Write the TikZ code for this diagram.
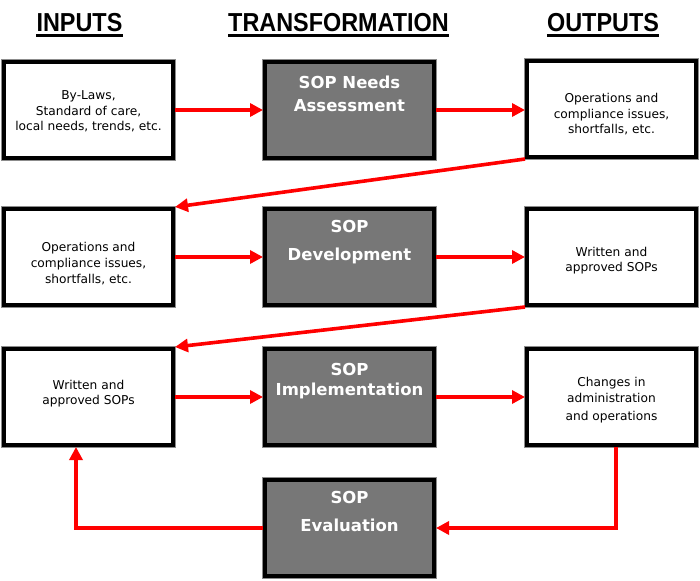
\documentclass[tikz,border=0pt]{standalone}
\usepackage{fontspec}
\setmainfont{DejaVu Sans}
\newfontfamily\hdfont[FakeStretch=0.9]{Liberation Sans}
\usetikzlibrary{arrows.meta}
\definecolor{boxgray}{RGB}{119,119,119}
\definecolor{arrred}{RGB}{255,0,0}
\tikzset{
  whitebox/.style={rectangle, draw=black, fill=white, line width=4pt, minimum width=169pt, minimum height=96pt, inner sep=0pt, outer sep=2pt,
    preaction={draw=black!45, line width=6pt}},
  graybox/.style={whitebox, fill=boxgray},
  smalltxt/.style={font=\fontsize{12.2}{15}\selectfont, anchor=base, inner sep=0pt},
  bigtxt/.style={font=\fontsize{16.5}{20}\selectfont\bfseries, text=white, anchor=base, inner sep=0pt},
  headtxt/.style={font=\hdfont\bfseries\fontsize{26}{30}\selectfont, anchor=base, inner sep=0pt},
  uline/.style={line width=2.4pt},
  flow/.style={draw=arrred, line width=3.6pt, -{Triangle[length=13pt,width=13pt]}}
}
\begin{document}
\begin{tikzpicture}[x=1pt, y=-1pt]
\useasboundingbox (0,0) rectangle (700,580);
\fill[white] (0,0) rectangle (700,580);

% headers
\node[headtxt] (h1) at (79.5,32) {INPUTS};
\node[headtxt] (h2) at (338.5,32) {TRANSFORMATION};
\node[headtxt] (h3) at (603,32) {OUTPUTS};
\draw[uline] ([yshift=-3.5pt]h1.base west) -- ([yshift=-3.5pt]h1.base east);
\draw[uline] ([yshift=-3.5pt]h2.base west) -- ([yshift=-3.5pt]h2.base east);
\draw[uline] ([yshift=-3.5pt]h3.base west) -- ([yshift=-3.5pt]h3.base east);

% boxes
\node[whitebox] (l1) at (88.5,110) {};
\node[graybox]  (m1) at (349.5,110) {};
\node[whitebox] (r1) at (611.5,109) {};
\node[whitebox] (l2) at (88.5,257) {};
\node[graybox]  (m2) at (349.5,257) {};
\node[whitebox] (r2) at (611.5,257) {};
\node[whitebox] (l3) at (88.5,397) {};
\node[graybox]  (m3) at (349.5,397) {};
\node[whitebox] (r3) at (611.5,397) {};
\node[graybox]  (m4) at (349.5,528) {};

% texts row 1
\node[smalltxt] (l1a) at (88.5,100) {By-Laws,};
\node[smalltxt] (l1b) at (88.5,115.5) {Standard of care,};
\node[smalltxt] (l1c) at (88.5,131) {local needs, trends, etc.};
\node[bigtxt] (m1a) at (349.5,88.3) {SOP Needs};
\node[bigtxt] (m1b) at (349.5,111.7) {Assessment};
\node[smalltxt] (r1a) at (611.5,102.5) {Operations and};
\node[smalltxt] (r1b) at (611.5,118.5) {compliance issues,};
\node[smalltxt] (r1c) at (611.5,133.5) {shortfalls, etc.};

% texts row 2
\node[smalltxt] (l2a) at (88.5,251) {Operations and};
\node[smalltxt] (l2b) at (88.5,267.5) {compliance issues,};
\node[smalltxt] (l2c) at (88.5,283.5) {shortfalls, etc.};
\node[bigtxt] (m2a) at (349.5,232.3) {SOP};
\node[bigtxt] (m2b) at (349.5,260) {Development};
\node[smalltxt] (r2a) at (611.5,256) {Written and};
\node[smalltxt] (r2b) at (611.5,271) {approved SOPs};

% texts row 3
\node[smalltxt] (l3a) at (88.5,389.5) {Written and};
\node[smalltxt] (l3b) at (88.5,404.5) {approved SOPs};
\node[bigtxt] (m3a) at (349.5,375) {SOP};
\node[bigtxt] (m3b) at (349.5,395.5) {Implementation};
\node[smalltxt] (r3a) at (611.5,386) {Changes in};
\node[smalltxt] (r3b) at (611.5,402) {administration};
\node[smalltxt] (r3c) at (611.5,420) {and operations};

% row 4
\node[bigtxt] (m4a) at (349.5,503.3) {SOP};
\node[bigtxt] (m4b) at (349.5,531.7) {Evaluation};

% connectors
\draw[flow] (l1.east) -- (m1.west);
\draw[flow] (m1.east) -- (m1.east -| r1.west);
\draw[flow] (r1.south west) -- (l2.north east);
\draw[flow] (l2.east) -- (m2.west);
\draw[flow] (m2.east) -- (r2.west);
\draw[flow] (r2.south west) -- (l3.north east);
\draw[flow] (l3.east) -- (m3.west);
\draw[flow] (m3.east) -- (r3.west);
\coordinate (r3out) at ([xshift=4.5pt]r3.south);
\coordinate (l3in) at ([xshift=-12.5pt]l3.south);
\draw[flow] (r3out) |- (m4.east);
\draw[flow] (m4.west) -| (l3in);
\end{tikzpicture}
\end{document}
